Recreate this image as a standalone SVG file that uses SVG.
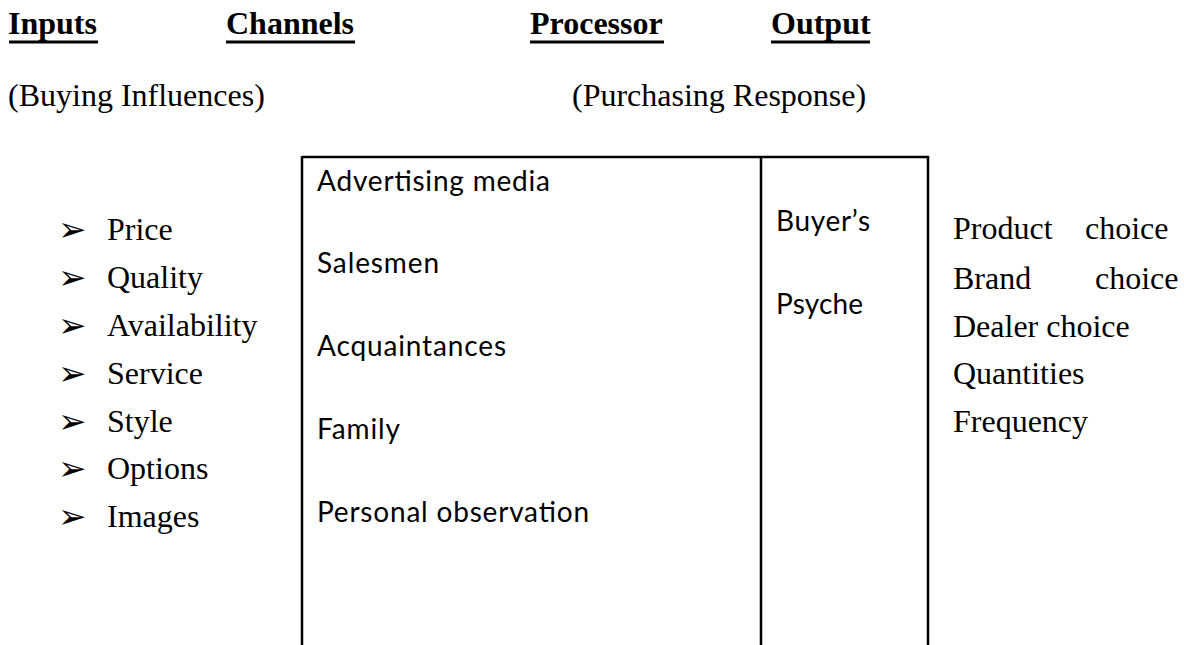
<svg xmlns="http://www.w3.org/2000/svg" width="1184" height="645" viewBox="0 0 1184 645">
<style>
.hd{font-family:"Liberation Serif","Times New Roman",serif;font-size:32px;font-weight:bold;fill:#000}
.tm{font-family:"Liberation Serif","Times New Roman",serif;font-size:32px;fill:#000}
.sn{font-family:Lato,"Noto Sans",sans-serif;font-size:28px;fill:#000}
.bl{font-family:"DejaVu Sans",sans-serif;font-size:34px;fill:#000}
.ln{stroke:#000;stroke-width:2.5;fill:none}
.ul{stroke:#000;stroke-width:3}
</style>
<rect width="1184" height="645" fill="#fff"/>
<g id="headers">
<text class="hd" x="8" y="34">Inputs</text>
<line class="ul" x1="9" y1="42" x2="98" y2="42"/>
<text class="hd" x="226" y="34">Channels</text>
<line class="ul" x1="226" y1="42" x2="355" y2="42"/>
<text class="hd" x="530" y="34">Processor</text>
<line class="ul" x1="530" y1="42" x2="664" y2="42"/>
<text class="hd" x="771" y="34">Output</text>
<line class="ul" x1="771" y1="42" x2="870" y2="42"/>
<text class="tm" x="8" y="106">(Buying Influences)</text>
<text class="tm" x="572" y="106">(Purchasing Response)</text>
</g>
<g id="inputs">
<text class="bl" x="58" y="241">➢</text>
<text class="bl" x="58" y="289">➢</text>
<text class="bl" x="58" y="337">➢</text>
<text class="bl" x="58" y="385">➢</text>
<text class="bl" x="58" y="433">➢</text>
<text class="bl" x="58" y="480">➢</text>
<text class="bl" x="58" y="528">➢</text>
<text class="tm" x="107" y="240">Price</text>
<text class="tm" x="107" y="288">Quality</text>
<text class="tm" x="107" y="336">Availability</text>
<text class="tm" x="107" y="384">Service</text>
<text class="tm" x="107" y="432">Style</text>
<text class="tm" x="107" y="479">Options</text>
<text class="tm" x="107" y="527">Images</text>
</g>
<g id="box">
<line class="ln" x1="302" y1="157" x2="929" y2="157"/>
<line class="ln" x1="302" y1="156" x2="302" y2="645"/>
<line class="ln" x1="761" y1="156" x2="761" y2="645"/>
<line class="ln" x1="928" y1="156" x2="928" y2="645"/>
</g>
<g id="channels">
<text class="sn" x="317" y="191" textLength="233">Advertising media</text>
<text class="sn" x="317" y="273" textLength="122">Salesmen</text>
<text class="sn" x="317" y="356" textLength="189">Acquaintances</text>
<text class="sn" x="317" y="439" textLength="83">Family</text>
<text class="sn" x="317" y="522" textLength="272">Personal observation</text>
</g>
<g id="processor">
<text class="sn" x="776" y="231" textLength="94">Buyer’s</text>
<text class="sn" x="776" y="314" textLength="87">Psyche</text>
</g>
<g id="output">
<text class="tm" x="953" y="239">Product</text>
<text class="tm" x="1085" y="239">choice</text>
<text class="tm" x="953" y="289">Brand</text>
<text class="tm" x="1095" y="289">choice</text>
<text class="tm" x="953" y="337">Dealer choice</text>
<text class="tm" x="953" y="384">Quantities</text>
<text class="tm" x="953" y="432">Frequency</text>
</g>
</svg>
